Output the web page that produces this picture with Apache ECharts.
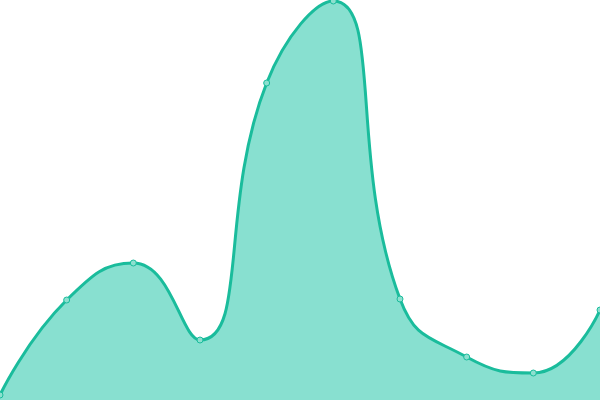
<!DOCTYPE html>
<html>
<head>
<meta charset="utf-8">
<style>
  html, body { margin: 0; padding: 0; background: #fff; }
  #chart { width: 600px; height: 400px; }
</style>
<script src="https://cdn.jsdelivr.net/npm/echarts@6/dist/echarts.min.js"></script>
</head>
<body>
<div id="chart"></div>
<script>
// 数据
const categories = ['1', '2', '3', '4', '5', '6', '7', '8', '9', '10'];
const values = [5, 100, 137, 60, 317, 399, 101, 43, 27, 90];

const chart = echarts.init(document.getElementById('chart'), null, { renderer: 'canvas' });

chart.setOption({
  animation: false,
  grid: { left: 0, right: 0, top: 0, bottom: 0 },
  xAxis: {
    type: 'category',
    data: categories,
    boundaryGap: false,
    show: false
  },
  yAxis: {
    type: 'value',
    min: 0,
    max: 400,
    show: false
  },
  series: [{
    type: 'line',
    data: values,
    smooth: true,
    symbol: 'circle',
    symbolSize: 6,
    lineStyle: { color: '#1abc9c', width: 3 },
    itemStyle: { color: '#8ce0cf', borderColor: '#1abc9c', borderWidth: 1 },
    areaStyle: { color: '#88e0d0', opacity: 1 }
  }]
});
</script>
</body>
</html>
